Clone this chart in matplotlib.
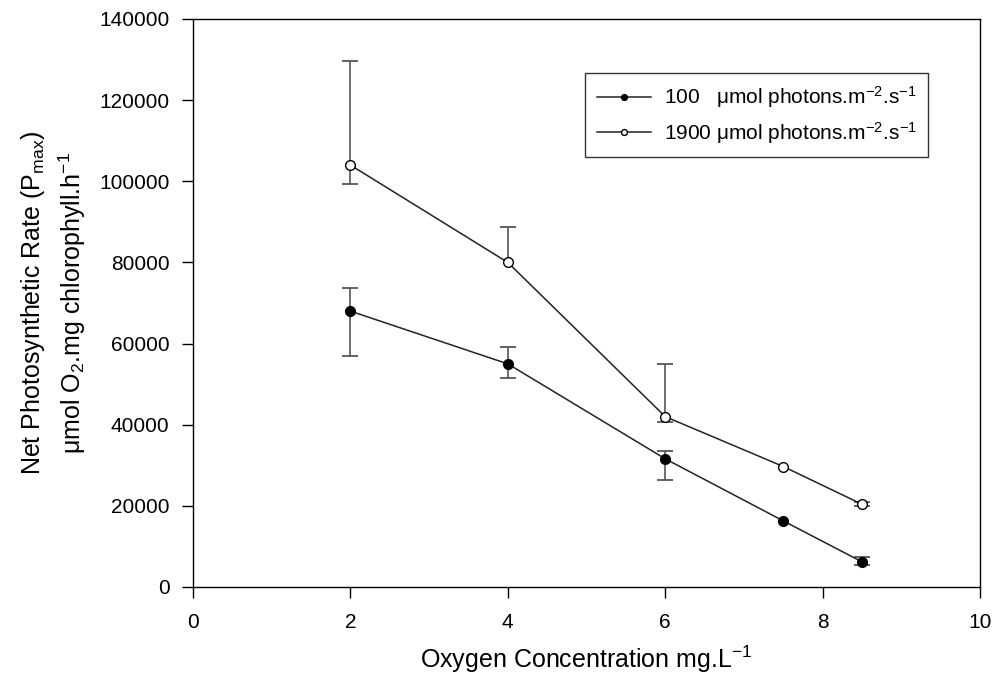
import matplotlib
matplotlib.use("Agg")
import matplotlib.pyplot as plt
import numpy as np

plt.rcParams['font.family'] = ['Liberation Sans', 'DejaVu Sans']
plt.rcParams['mathtext.fontset'] = 'custom'
plt.rcParams['mathtext.rm'] = 'Liberation Sans'
plt.rcParams['mathtext.it'] = 'Liberation Sans'

oxygen = [2, 4, 6, 7.5, 8.5]
low_mean = [68000, 55000, 31600, 16300, 6200]
low_upper = [73700, 59200, 33500, 16300, 7300]
low_lower = [56900, 51500, 26400, 16300, 5300]
high_mean = [104000, 80000, 42000, 29700, 20400]
high_upper = [129600, 88700, 55000, 29700, 20900]
high_lower = [99300, 80000, 40700, 29700, 19900]

labels = ["100   \u03bcmol photons.m$^{-2}$.s$^{-1}$",
          "1900 \u03bcmol photons.m$^{-2}$.s$^{-1}$"]

fig = plt.figure(figsize=(10.01, 6.73), dpi=100)
ax = fig.add_axes([193/1001, 1-587/673, (980-193)/1001, (587-19)/673])

def draw(mean, up, lo, face, label):
    x = np.array(oxygen, dtype=float)
    mean = np.array(mean, dtype=float); up = np.array(up, dtype=float); lo = np.array(lo, dtype=float)
    ecol = '#555555'
    # upper bars
    mu = up > mean
    ax.errorbar(x[mu], mean[mu], yerr=np.vstack([np.zeros(mu.sum()), up[mu] - mean[mu]]),
                fmt='none', ecolor=ecol, elinewidth=1.2, capsize=0, zorder=2)
    ax.plot(x[mu], up[mu], ls='none', marker='_', ms=11, mew=1.3, color=ecol, zorder=2)
    # lower bars
    ml = lo < mean
    ax.errorbar(x[ml], mean[ml], yerr=np.vstack([mean[ml] - lo[ml], np.zeros(ml.sum())]),
                fmt='none', ecolor=ecol, elinewidth=1.2, capsize=0, zorder=2)
    ax.plot(x[ml], lo[ml], ls='none', marker='_', ms=11, mew=1.3, color=ecol, zorder=2)
    ax.plot(x, mean, color='#222222', lw=1.1, marker='o', ms=7,
            mfc=face, mec='black', mew=1.0, label=label, zorder=3)

draw(low_mean, low_upper, low_lower, 'black', labels[0])
draw(high_mean, high_upper, high_lower, 'white', labels[1])

ax.set_xlim(0, 10)
ax.set_ylim(0, 140000)
ax.set_xticks([0, 2, 4, 6, 8, 10])
ax.set_yticks(np.arange(0, 140001, 20000))
ax.tick_params(direction='out', length=8, width=1, labelsize=15)
ax.tick_params(axis='y', pad=9)
ax.tick_params(axis='x', pad=11)
for s in ax.spines.values():
    s.set_linewidth(1)

ax.set_xlabel("Oxygen Concentration mg.L$^{-1}$", fontsize=18, labelpad=8)
ax.set_ylabel("Net Photosynthetic Rate (P$_{max}$)\n\u03bcmol O$_2$.mg chlorophyll.h$^{-1}$",
              fontsize=18, labelpad=8, linespacing=1.4)

leg = ax.legend(loc='upper right', bbox_to_anchor=((928-193)/787, (587-73)/568),
                borderaxespad=0, fontsize=15,
                frameon=True, fancybox=False, edgecolor='black',
                handlelength=2.6, borderpad=0.55, labelspacing=0.45, markerscale=0.6,
                handletextpad=0.6)
leg.get_frame().set_linewidth(1)

fig.savefig("out.png", dpi=100)
